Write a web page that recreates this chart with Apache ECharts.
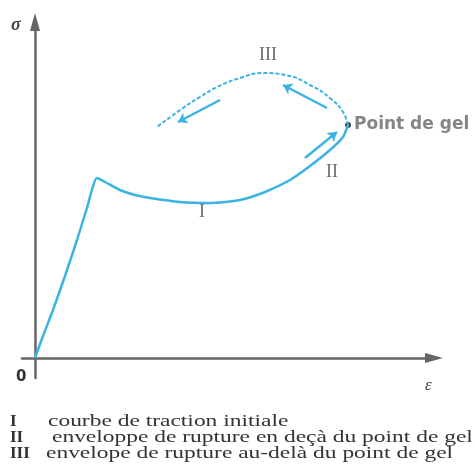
<!DOCTYPE html>
<html>
<head>
<meta charset="utf-8">
<script src="https://cdn.jsdelivr.net/npm/echarts@6/dist/echarts.min.js"></script>
<style>
  html, body { margin: 0; padding: 0; background: #fff; }
  #chart { width: 475px; height: 476px; }
</style>
</head>
<body>
<div id="chart"></div>
<script>
// curve I + II : initial traction curve up to the gel point (solid)
const curveI = [[0, 0], [8, 22], [18, 48], [30, 82], [42, 118], [52, 150], [62, 180],
  [70, 176], [85, 168], [100, 163], [115, 160], [145, 156], [175, 155], [205, 158],
  [230, 166], [255, 178], [275, 192], [295, 208], [308, 221], [313, 233]]
// curve III : rupture envelope beyond the gel point (dashed)
const curveIII = [[313, 233], [308, 246], [296, 259], [275, 273], [250, 283], [228, 285],
  [205, 280], [182, 271], [165, 261], [148, 250], [122, 231]]
const gelPoint = [[313, 233]]
// direction arrows [from, to]
const arrows = [
  [[270, 200], [302, 226]],
  [[292, 250], [248, 273]],
  [[185, 258], [143, 236]]
]
// curve labels [x, y, text]
const curveLabels = [[167, 146, 'I'], [297, 186, 'II'], [233, 303, 'III']]
const legendLines = [
  ['I', 'courbe de traction initiale'],
  ['II', 'enveloppe de rupture en deçà du point de gel'],
  ['III', 'envelope de rupture au-delà du point de gel']
]

const blue = '#3bb3e3'
const chart = echarts.init(document.getElementById('chart'))

const textIndent = [48, 52, 46]
const graphics = [
  { type: 'text', left: 11, top: 16, style: { text: 'σ', font: 'italic bold 18px "Liberation Serif"', fill: '#444' } },
  { type: 'text', left: 16, top: 370, style: { text: '0', font: 'bold 15px "DejaVu Sans"', fill: '#333' } },
  { type: 'text', left: 425, top: 377, style: { text: 'ε', font: 'italic 17px "Liberation Serif"', fill: '#444' } }
]
legendLines.forEach((l, i) => {
  graphics.push({ type: 'text', left: 10, top: 413 + i * 16, style: { text: l[0], font: 'bold 17px "Liberation Serif"', fill: '#333' } })
  graphics.push({ type: 'text', left: textIndent[i], top: 413 + i * 16, scaleX: 1.38, style: { text: l[1], font: '17px "Liberation Serif"', fill: '#333' } })
})

chart.setOption({
  animation: false,
  grid: { left: 22, right: 41, top: 22, bottom: 98 },
  xAxis: {
    type: 'value', min: -13, max: 399,
    axisLine: { onZero: true, lineStyle: { color: '#666', width: 2.5 }, symbol: ['none', 'triangle'], symbolSize: [10, 18] },
    axisTick: { show: false }, axisLabel: { show: false }, splitLine: { show: false }
  },
  yAxis: {
    type: 'value', min: -20, max: 336,
    axisLine: { show: true, onZero: true, lineStyle: { color: '#666', width: 2.5 }, symbol: ['none', 'triangle'], symbolSize: [10, 18] },
    axisTick: { show: false }, axisLabel: { show: false }, splitLine: { show: false }
  },
  graphic: graphics,
  series: [
    {
      type: 'line', data: curveI, symbol: 'none', smooth: 0.2,
      lineStyle: { color: blue, width: 2.5 }
    },
    {
      type: 'line', data: curveIII, symbol: 'none', smooth: 0.5,
      lineStyle: { color: blue, width: 2, type: [4, 2] }
    },
    {
      type: 'lines', coordinateSystem: 'cartesian2d',
      symbol: ['none', 'arrow'], symbolSize: 9,
      lineStyle: { color: blue, width: 2.5, opacity: 1 },
      data: arrows.map(a => ({ coords: a }))
    },
    {
      type: 'scatter', data: curveLabels, symbolSize: 0,
      label: {
        show: true, position: 'inside', formatter: p => p.data[2],
        fontFamily: 'Liberation Serif', fontSize: 18, color: '#444'
      }
    },
    {
      type: 'scatter', data: gelPoint, symbolSize: 6,
      itemStyle: { color: '#111' },
      label: {
        show: true, position: 'right', distance: 3, formatter: 'Point de gel',
        fontFamily: 'DejaVu Sans', fontWeight: 'bold', fontSize: 17, color: '#666'
      }
    }
  ]
})
</script>
</body>
</html>
